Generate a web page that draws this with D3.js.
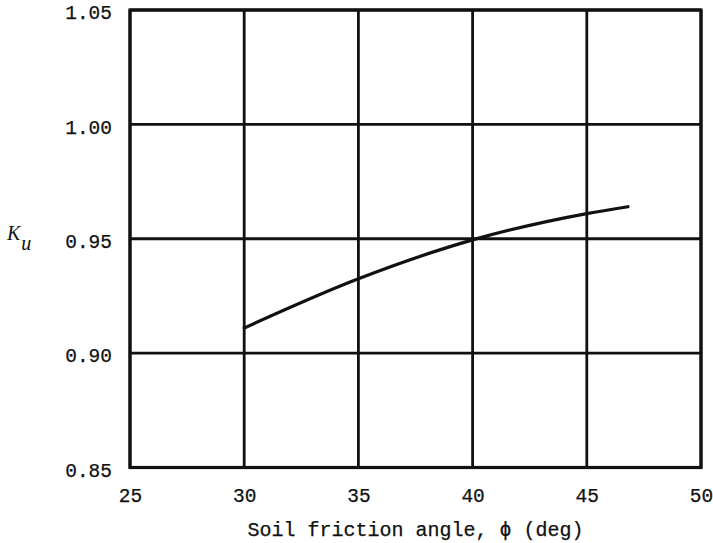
<!DOCTYPE html>
<html>
<head>
<meta charset="utf-8">
<script src="https://cdn.jsdelivr.net/npm/d3@7"></script>
<style>
  body { margin: 0; background: #fff; }
  svg { display: block; }
  .tick text { font-family: "Liberation Mono", "DejaVu Sans Mono", monospace; font-size: 19.5px; fill: #111; stroke: #111; stroke-width: 0.25px; }
</style>
</head>
<body>
<div id="chart"></div>
<script>
// data
var phi = [30, 35, 40, 45, 46.8];
var ku = [0.911, 0.9325, 0.9495, 0.961, 0.964];
var xTicks = [25, 30, 35, 40, 45, 50];
var yTicks = [0.85, 0.90, 0.95, 1.00, 1.05];

var width = 713, height = 543;
var margin = { top: 10, right: 12, bottom: 76, left: 130 };

var svg = d3.select("#chart").append("svg")
    .attr("width", width)
    .attr("height", height);

var x = d3.scaleLinear().domain([25, 50]).range([margin.left, width - margin.right]);
var y = d3.scaleLinear().domain([0.85, 1.05]).range([height - margin.bottom + 0.5, margin.top]);

// grid lines
svg.append("g").selectAll("line.vx")
    .data(xTicks)
    .enter().append("line")
    .attr("x1", function(d) { return x(d); })
    .attr("x2", function(d) { return x(d); })
    .attr("y1", y(0.85))
    .attr("y2", y(1.05))
    .attr("stroke", "#111")
    .attr("stroke-width", 2.8);

svg.append("g").selectAll("line.hy")
    .data(yTicks)
    .enter().append("line")
    .attr("x1", x(25))
    .attr("x2", x(50))
    .attr("y1", function(d) { return y(d); })
    .attr("y2", function(d) { return y(d); })
    .attr("stroke", "#111")
    .attr("stroke-width", 2.8);

// frame
svg.append("rect")
    .attr("x", x(25))
    .attr("y", y(1.05))
    .attr("width", x(50) - x(25))
    .attr("height", y(0.85) - y(1.05))
    .attr("fill", "none")
    .attr("stroke", "#111")
    .attr("stroke-width", 3.2);

// axes (labels only)
var xAxis = svg.append("g")
    .attr("transform", "translate(0," + y(0.85) + ")")
    .call(d3.axisBottom(x).tickValues(xTicks).tickSize(0).tickPadding(21));
xAxis.select(".domain").remove();

var yAxis = svg.append("g")
    .attr("transform", "translate(" + x(25) + ",0)")
    .call(d3.axisLeft(y).tickValues(yTicks).tickSize(0).tickPadding(18).tickFormat(d3.format(".2f")));
yAxis.select(".domain").remove();
yAxis.selectAll(".tick text").attr("dy", "0.45em");

// curve
var line = d3.line()
    .x(function(d, i) { return x(phi[i]); })
    .y(function(d) { return y(d); })
    .curve(d3.curveMonotoneX);

svg.append("path")
    .datum(ku)
    .attr("d", line)
    .attr("fill", "none")
    .attr("stroke", "#111")
    .attr("stroke-width", 3.2)
    .attr("stroke-linecap", "round");

// axis titles
svg.append("text")
    .attr("x", (x(25) + x(50)) / 2)
    .attr("y", 536)
    .attr("text-anchor", "middle")
    .style("font-family", "'Liberation Mono', 'DejaVu Sans Mono', monospace")
    .style("font-size", "20px")
    .style("fill", "#111")
    .style("stroke", "#111")
    .style("stroke-width", "0.25px")
    .text("Soil friction angle, \u03D5 (deg)");

var kl = svg.append("text")
    .attr("x", 7)
    .attr("y", 240)
    .style("font-family", "'Liberation Serif', serif")
    .style("font-style", "italic")
    .style("font-size", "20px")
    .style("fill", "#111");
kl.append("tspan").text("K");
kl.append("tspan").attr("dy", 10).attr("dx", 1).text("u");
</script>
</body>
</html>
